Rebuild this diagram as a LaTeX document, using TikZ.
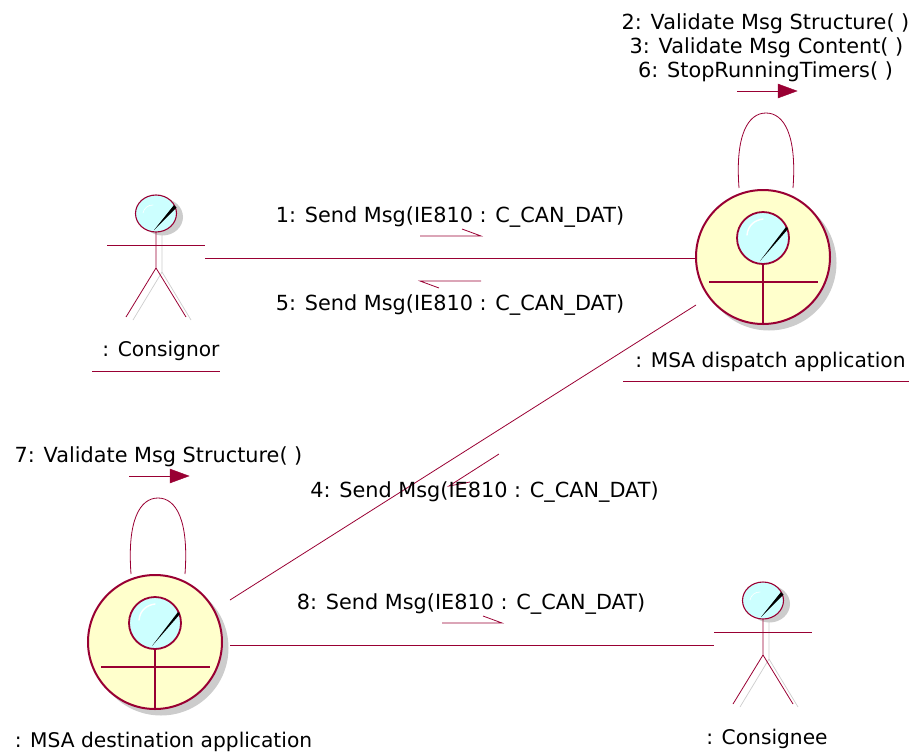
\documentclass[tikz,border=0pt]{standalone}
\usepackage{fontspec}
\setmainfont{DejaVu Sans}
\usetikzlibrary{shapes.geometric}
\definecolor{rose}{HTML}{990033}
\definecolor{creamfill}{HTML}{FFFFCC}
\definecolor{headfill}{HTML}{CCFFFF}
\definecolor{shadowgrey}{HTML}{CCCCCC}
\tikzset{
  conn/.style={draw=rose,line width=0.8pt},
  txt/.style={inner sep=0pt,font=\fontsize{20.8}{24}\selectfont,text=black,anchor=center},
  lbl/.style={inner sep=0pt,font=\fontsize{20.2}{24}\selectfont,text=black,anchor=center},
  bigcirc/.style={circle,draw=rose,fill=creamfill,line width=2pt,minimum size=134pt,inner sep=0pt,outer sep=0pt},
  bighead/.style={circle,draw=rose,fill=headfill,line width=1.8pt,minimum size=52pt,inner sep=0pt,outer sep=0pt},
  bigline/.style={draw=rose,line width=2pt},
  shade/.style={fill=shadowgrey,draw=none},
  shadeline/.style={draw=shadowgrey,line width=0.7pt},
  actorbox/.style={minimum width=98pt,minimum height=126pt,inner sep=0pt,outer sep=0pt},
  arrowhd/.style={fill=rose,draw=rose,line width=0.4pt},
  wedge/.style={fill=black,draw=none},
  shine/.style={draw=white,line width=1.4pt,line cap=round}
}
% #1 name, #2 x, #3 y : big boundary-type figure
\newcommand{\bigfigure}[3]{
  \fill[shade] (#2+6,#3+6) circle[radius=67.5];
  \node[bigcirc] (#1) at (#2,#3) {};
  \node[bighead] (#1head) at (#2,#3-19) {};
  \draw[shine] (#2-16,#3-22) .. controls (#2-15,#3-32) and (#2-8,#3-37) .. (#2,#3-38);
  \fill[wedge] (#2-3,#3+4) -- (#2+23,#3-30) -- (#2+25,#3-28) -- cycle;
  \draw[bigline] (#1head.south) -- (#1.south);
  \draw[bigline] (#2-54,#3+25) -- (#2+55,#3+25);
}
% #1 name, #2 x, #3 y : stick figure, box centre at (x,y)
\newcommand{\stick}[3]{
  \node[actorbox] (#1) at (#2,#3) {};
  \fill[shade] (#2+6.5,#3-41) ellipse[x radius=20.5,y radius=18.5];
  \draw[shadeline] (#2+6,#3-26) -- (#2+6,#3+14) -- (#2-23,#3+62);
  \draw[shadeline] (#2+6,#3+14) -- (#2+35,#3+62);
  \draw[conn] (#2,#3-26) -- (#2,#3+10) -- (#2-30,#3+59);
  \draw[conn] (#2,#3+10) -- (#2+30,#3+59);
  \draw[conn] (#2-49,#3-13) -- (#2+49,#3-13);
  \node[ellipse,draw=rose,fill=headfill,line width=1.1pt,minimum width=41pt,minimum height=37pt,inner sep=0pt] (#1head) at (#2,#3-44.5) {};
  \draw[shine,line width=0.6pt] (#2-13,#3-45) .. controls (#2-12,#3-50) and (#2-8,#3-53) .. (#2-3,#3-53);
  \fill[wedge] (#2-2,#3-28) -- (#2+18,#3-53) -- (#2+20.5,#3-50.5) -- cycle;
}
\begin{document}
\begin{tikzpicture}[x=1pt,y=-1pt]
\useasboundingbox (0,0) rectangle (911,753);
% figures
\stick{consignor}{156}{258}
\stick{consignee}{763}{645}
\bigfigure{disp}{763}{257}
\bigfigure{dest}{155}{642}
% connector free ends
\coordinate (destout) at (230,645);
\coordinate (destdiag) at (230,600);
\coordinate (dispdiag) at (696,305);
\coordinate (dl1) at (739,188); \coordinate (dl2) at (793,188);
\coordinate (el1) at (131,574); \coordinate (el2) at (185,574);
% connectors
\draw[conn] (consignor.east) -- (disp.west |- consignor.east);
\draw[conn] (destout) -- (consignee.west);
\draw[conn] (destdiag) -- (dispdiag);
\draw[conn] (dl1) .. controls (735,135) and (748,113) .. (766,113) .. controls (784,113) and (797,135) .. (dl2);
\draw[conn] (el1) .. controls (127,520) and (140,498) .. (158,498) .. controls (176,498) and (189,520) .. (el2);
% message arrows
\coordinate (a1s) at (420,236); \coordinate (a1e) at (481,236);
\draw[conn] (a1s) -- (a1e) -- (462,229);
\coordinate (a5s) at (481,281); \coordinate (a5e) at (420,281);
\draw[conn] (a5s) -- (a5e) -- (439,288);
\coordinate (a8s) at (442,623); \coordinate (a8e) at (502,623);
\draw[conn] (a8s) -- (a8e) -- (483,616);
\coordinate (a4s) at (499,454); \coordinate (a4e) at (449,486);
\draw[conn] (a4s) -- (a4e) -- (470,482);
\coordinate (s1) at (737,91); \coordinate (s2) at (778,91);
\draw[conn] (s1) -- (s2);
\fill[arrowhd] (778,84) -- (797,91) -- (778,98) -- cycle;
\coordinate (t1) at (129,476); \coordinate (t2) at (170,476);
\draw[conn] (t1) -- (t2);
\fill[arrowhd] (170,469) -- (189,476) -- (170,483) -- cycle;
% labels
\node[txt] (m2) at (765.5,24) {2: Validate Msg Structure( )};
\node[txt] (m3) at (766.5,48) {3: Validate Msg Content( )};
\node[txt] (m6) at (765.5,72) {6: StopRunningTimers( )};
\node[txt] (m1) at (450,217) {1: Send Msg(IE810 : C\_CAN\_DAT)};
\node[txt] (m5) at (450,305) {5: Send Msg(IE810 : C\_CAN\_DAT)};
\node[txt] (m4) at (484.5,492) {4: Send Msg(IE810 : C\_CAN\_DAT)};
\node[txt] (m8) at (471,604) {8: Send Msg(IE810 : C\_CAN\_DAT)};
\node[txt] (m7) at (158.5,457) {7: Validate Msg Structure( )};
\node[lbl] (l1) at (161,351) {: Consignor};
\node[lbl] (l2) at (770.5,362) {: MSA dispatch application};
\node[lbl] (l3) at (163.5,742) {: MSA destination application};
\node[lbl] (l4) at (767,739) {: Consignee};
\draw[conn] (92,371) -- (220,371);
\draw[conn] (623,381) -- (909,381);
\end{tikzpicture}
\end{document}
